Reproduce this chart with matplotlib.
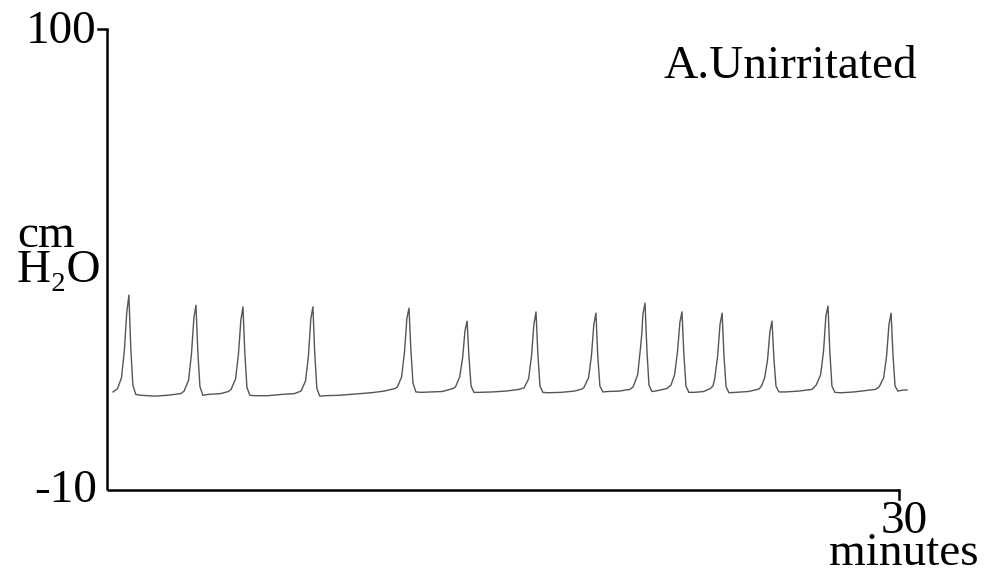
import matplotlib
matplotlib.use("Agg")
import matplotlib.pyplot as plt

# Trace data: time (minutes) and pressure (cm H2O)
time_min = [
    0.23, 0.40, 0.55, 0.66, 0.75, 0.83, 0.90, 0.98, 1.09, 1.28,
    1.8, 2.3, 2.8,
    2.92, 3.09, 3.20, 3.29, 3.37, 3.44, 3.52, 3.63, 3.82,
    4.3, 4.6,
    4.70, 4.87, 4.98, 5.07, 5.15, 5.22, 5.30, 5.41, 5.60,
    6.1, 6.6, 7.1,
    7.35, 7.52, 7.63, 7.72, 7.80, 7.87, 7.95, 8.06, 8.25,
    8.8, 9.4, 10.0, 10.5, 10.9,
    11.0, 11.16, 11.27, 11.36, 11.44, 11.51, 11.59, 11.70, 11.9,
    12.3, 12.7, 13.1,
    13.2, 13.36, 13.47, 13.56, 13.64, 13.71, 13.79, 13.90, 14.1,
    14.6, 15.1, 15.6,
    15.8, 15.97, 16.08, 16.17, 16.25, 16.32, 16.40, 16.51, 16.7,
    17.2, 17.7, 18.0,
    18.07, 18.24, 18.35, 18.44, 18.52, 18.59, 18.67, 18.78, 18.95,
    19.4, 19.8,
    19.93, 20.10, 20.21, 20.26, 20.30, 20.38, 20.45, 20.53, 20.64, 20.85,
    21.2,
    21.36, 21.50, 21.61, 21.70, 21.78, 21.85, 21.93, 22.04, 22.25,
    22.6, 22.85,
    22.95, 23.02, 23.13, 23.22, 23.30, 23.37, 23.45, 23.56, 23.8,
    24.3, 24.7,
    24.8, 24.91, 25.02, 25.11, 25.19, 25.26, 25.34, 25.45, 25.7,
    26.2, 26.7,
    26.86, 27.03, 27.14, 27.23, 27.31, 27.38, 27.46, 27.57, 27.8,
    28.3, 28.7, 29.1,
    29.25, 29.42, 29.53, 29.62, 29.70, 29.77, 29.85, 29.96, 30.10, 30.30,
]
pressure = [
    13.4, 14.2, 16.8, 23.5, 32.5, 36.5, 24.0, 15.0, 12.8, 12.6,
    12.4, 12.6, 13.0,
    13.6, 16.2, 22.5, 31.0, 34.1, 23.0, 14.7, 12.6, 12.8,
    13.0, 13.5,
    14.0, 16.5, 22.5, 30.5, 33.7, 22.8, 14.5, 12.6, 12.5,
    12.5, 12.8, 13.0,
    13.6, 16.0, 22.0, 30.8, 33.7, 22.5, 14.2, 12.4, 12.5,
    12.6, 12.9, 13.2, 13.6, 14.2,
    14.6, 17.0, 23.0, 31.0, 33.4, 23.5, 15.5, 13.4, 13.3,
    13.4, 13.5, 14.2,
    14.6, 17.0, 21.5, 28.0, 30.3, 21.8, 14.8, 13.3, 13.3,
    13.4, 13.6, 14.0,
    14.4, 16.5, 22.0, 29.5, 32.5, 22.5, 14.8, 13.3, 13.2,
    13.3, 13.6, 14.1,
    14.5, 16.8, 22.0, 29.5, 32.2, 22.0, 14.8, 13.4, 13.5,
    13.6, 14.0,
    14.6, 17.5, 24.0, 27.5, 32.0, 34.6, 23.5, 15.0, 13.5, 13.7,
    14.2,
    15.0, 17.5, 23.0, 30.0, 32.5, 22.5, 14.8, 13.3, 13.3,
    13.5, 14.2,
    14.8, 16.5, 22.0, 29.5, 32.2, 22.0, 14.6, 13.2, 13.3,
    13.5, 14.1,
    14.9, 16.8, 21.0, 27.8, 30.3, 21.5, 14.8, 13.4, 13.4,
    13.6, 14.0,
    15.0, 17.5, 23.0, 31.5, 33.9, 23.0, 14.8, 13.3, 13.2,
    13.4, 13.7, 14.0,
    14.6, 16.8, 22.0, 29.5, 32.2, 22.5, 14.8, 13.6, 13.8, 13.9,
]

y_min, y_max = -10, 100
x_min, x_max = 0, 30
y_tick_labels = ["100", "-10"]
x_tick_label = "30"
x_unit = "minutes"
y_unit = "cm\nH\u2082O"
title = "A.Unirritated"

W, H = 998, 576
fig = plt.figure(figsize=(W / 100, H / 100), dpi=100)
ax = fig.add_axes([0, 0, 1, 1])
ax.set_axis_off()

# pixel mapping: x=107 -> 0 min, x=899 -> 30 min; y=490 -> -10, y=29 -> 100
px_per_min = (899 - 107) / 30.0
px_per_unit = (490 - 29) / 110.0
ax.set_xlim(-107 / px_per_min, (W - 107) / px_per_min)
ax.set_ylim(-10 - (H - 490) / px_per_unit, 100 + 29 / px_per_unit)

# axes drawn as lines
lw_axis = 1.8
ax.plot([x_min, x_min], [y_min, y_max], color="black", lw=lw_axis, solid_capstyle="butt")
ax.plot([x_min - 9 / px_per_min, x_min], [y_max, y_max], color="black", lw=lw_axis)
ax.plot([x_min, x_max], [y_min, y_min], color="black", lw=lw_axis, solid_capstyle="butt")
ax.plot([x_max, x_max], [y_min, y_min - 9 / px_per_unit], color="black", lw=lw_axis)

ax.plot(time_min, pressure, color="#555555", lw=1.0)

font = ["Liberation Serif", "DejaVu Serif"]
fs = 34


def ftext(x, y, s, size=fs, ha="left", va="baseline", **kw):
    fig.text(x / W, 1 - y / H, s, fontsize=size, family=font, ha=ha, va=va, **kw)


ftext(97, 43, y_tick_labels[0], ha="right")
ftext(97, 502, y_tick_labels[1], ha="right")
ftext(904, 565, x_tick_label + "\n" + x_unit, ha="center", multialignment="center",
      linespacing=0.68)
ftext(663, 78, title)
ftext(17, 282, y_unit, multialignment="left", linespacing=0.76)

fig.savefig("out.png", dpi=100)
